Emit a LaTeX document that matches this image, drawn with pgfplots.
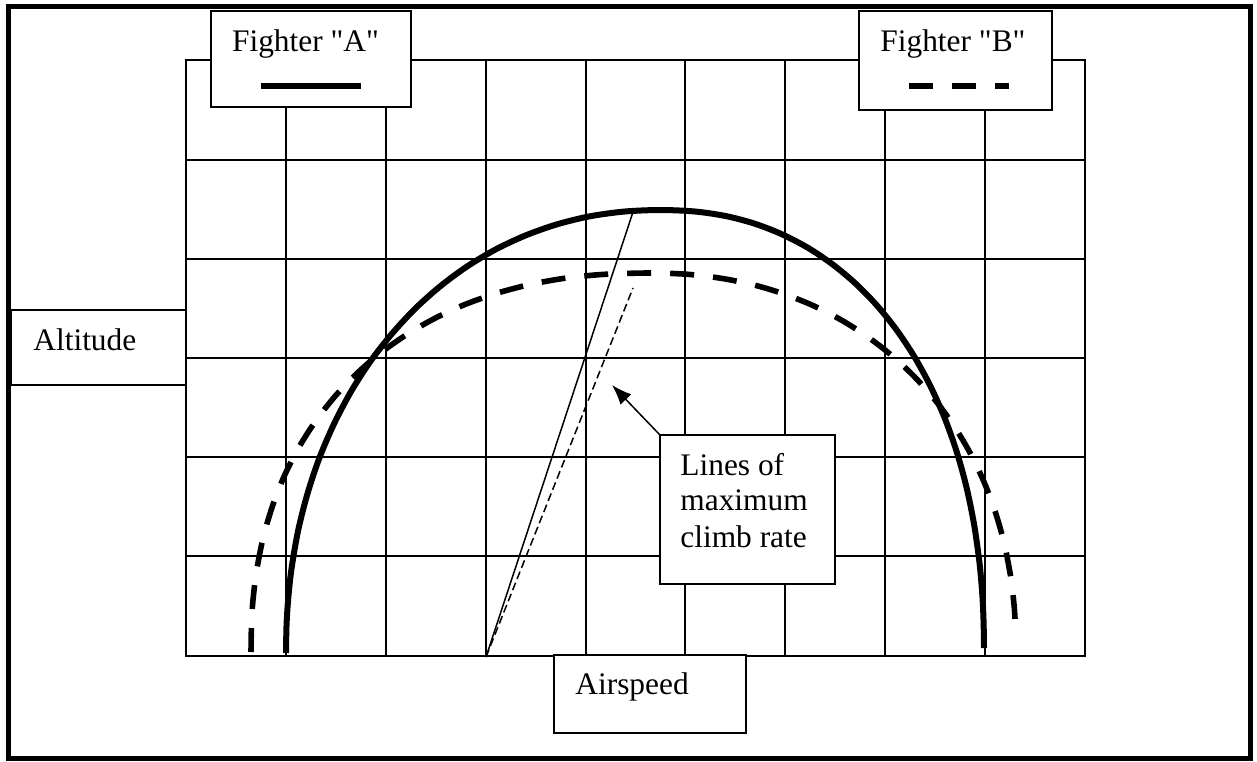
\documentclass[border=0pt]{standalone}
\usepackage{fontspec}
\setmainfont{Liberation Serif}
\usepackage{pgfplots}
\pgfplotsset{compat=1.18}
\usetikzlibrary{arrows.meta}
\begin{document}
\begin{tikzpicture}
\begin{axis}[
  scale only axis, width=449.5pt, height=297.5pt,
  xmin=186, xmax=1085, ymin=105.5, ymax=700.5,
  xtick={186,285.9,385.8,485.7,585.6,685.4,785.3,885.2,985.1,1085},
  ytick={105.5,204.7,303.8,403.0,502.2,601.3,700.5},
  xticklabels={}, yticklabels={},
  major tick length=0pt, tick style={draw=none},
  grid=major, grid style={black, line width=1pt},
  axis line style={black, line width=1pt},
  clip=false,
  every axis plot/.append style={line cap=butt},
  font=\fontsize{15.7pt}{18pt}\selectfont,
]
% invisible page frame
\path (axis cs:0,0) rectangle (axis cs:1257,761);
% outer border
\draw[black, line width=2.5pt] (axis cs:9,754) rectangle (axis cs:1250,2.5);

% Fighter A (solid)
\addplot[black, line width=3pt, smooth, tension=0.5] coordinates {
(286,108) (286.5,134.7) (288,159.6) (291.4,191.6) (298.1,230.3) (307.5,267.4)
(319.4,303.1) (333.9,336.9) (350.7,368.9) (369.8,398.8) (391.2,426.4) (414.5,451.7)
(439.7,474.3) (466.7,494.3) (495.3,511.4) (525.4,525.5) (556.8,536.6) (589.4,544.6)
(623.7,549.4) (660,551) (694.9,549.5) (726,544.9) (754.8,537.3) (782.2,526.6)
(808.1,513.1) (832.5,496.7) (855.5,477.5) (876.8,455.7) (896.4,431.3) (914.3,404.4)
(930.2,375.3) (944.3,343.9) (956.3,310.5) (966.2,275) (973.9,237.6) (979.5,198.2)
(982.4,164.9) (983.6,138.3) (984,113)};

% Fighter B (dashed)
\addplot[black, line width=2.8pt, smooth, tension=0.5, dash pattern=on 12pt off 9.5pt] coordinates {
(251,109) (251.5,136.5) (252.9,159.9) (256.4,189) (263.1,223) (272.5,255)
(284.4,285.3) (298.9,313.7) (315.8,340.2) (335.2,364.9) (356.8,387.5) (380.6,408.1)
(406.6,426.4) (434.5,442.5) (464.4,456.3) (496.3,467.6) (530,476.5) (565.8,482.9)
(604.8,486.7) (650,488) (687.5,486.7) (721.8,482.6) (754.1,476) (784.9,466.7)
(814.3,454.9) (842.1,440.5) (868.2,423.8) (892.6,404.8) (915.1,383.6) (935.6,360.3)
(954,335) (970.2,307.9) (984,279.1) (995.4,248.7) (1004.4,216.8) (1010.8,183.4)
(1014.1,155.4) (1015.5,133.4) (1015.8,124)};

% lines of maximum climb rate
\addplot[black, line width=0.75pt] coordinates {(486,104) (633,549)};
\addplot[black, line width=0.75pt, dash pattern=on 4pt off 2pt] coordinates {(486,104) (633,473)};

% boxes
\draw[black, line width=0.85pt, fill=white] (axis cs:211,750) rectangle (axis cs:411,654);
\draw[black, line width=0.85pt, fill=white] (axis cs:859,750) rectangle (axis cs:1052,651);
\draw[black, line width=0.85pt, fill=white] (axis cs:11,451) rectangle (axis cs:186,376);
\draw[black, line width=0.85pt, fill=white] (axis cs:554,106) rectangle (axis cs:746,28);
\draw[black, line width=0.85pt, fill=white] (axis cs:660,326) rectangle (axis cs:835,177);

% legend samples
\addplot[black, line width=3.2pt] coordinates {(261,675) (361,675)};
\addplot[black, line width=3.2pt, dash pattern=on 12pt off 9.5pt] coordinates {(909,675) (1009,675)};

% texts
\node[anchor=base west, inner sep=0pt] at (axis cs:231.7,709) {Fighter \textquotedbl A\textquotedbl};
\node[anchor=base west, inner sep=0pt] at (axis cs:880,709) {Fighter \textquotedbl B\textquotedbl};
\node[anchor=base west, inner sep=0pt] at (axis cs:33,411) {Altitude};
\node[anchor=base west, inner sep=0pt] at (axis cs:575,67) {Airspeed};
\node[anchor=base west, inner sep=0pt] at (axis cs:680,286) {Lines of};
\node[anchor=base west, inner sep=0pt] at (axis cs:680,251) {maximum};
\node[anchor=base west, inner sep=0pt] at (axis cs:680,214) {climb rate};

% arrow
\draw[black, line width=0.75pt, -{Latex[length=10pt,width=7.5pt]}] (axis cs:660,326) -- (axis cs:612,376);
\end{axis}
\end{tikzpicture}
\end{document}
